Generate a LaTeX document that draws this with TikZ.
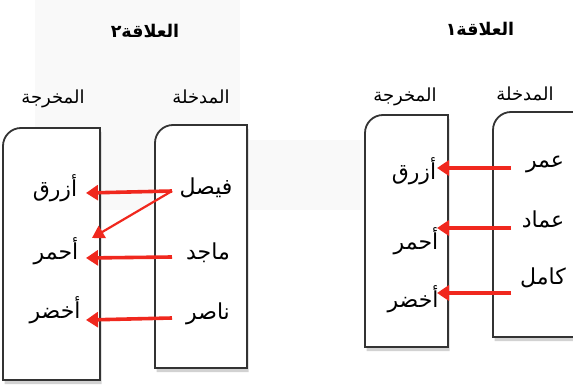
\documentclass[tikz,border=0pt]{standalone}
\usepackage{fontspec}
\usetikzlibrary{arrows.meta,shadows}
\TeXXeTstate=1
\newfontfamily\arabicfont[Script=Arabic]{DejaVu Sans}
\definecolor{arrred}{HTML}{F0281E}
\definecolor{boxline}{HTML}{333333}
\tikzset{
  item/.style={font=\arabicfont\fontsize{22}{26}\selectfont, inner sep=0pt},
  head/.style={font=\arabicfont\fontsize{18}{22}\selectfont, inner sep=0pt},
  title/.style={font=\arabicfont\bfseries\fontsize{17.5}{22}\selectfont, inner sep=0pt},
  setbox/.style={draw=boxline, line width=1.8pt, fill=white,
     drop shadow={shadow xshift=1.5pt, shadow yshift=-4pt, opacity=0.35, fill=gray}},
  arr/.style={draw=arrred, line width=3.6pt, -{Triangle[length=12pt,width=15pt]}},
  arrthin/.style={draw=arrred, line width=2.2pt, -{Triangle[length=12pt,width=14pt]}}
}
\begin{document}
\begin{tikzpicture}[x=1pt,y=-1pt]
\clip (0,0) rectangle (573,385);
\fill[white] (0,0) rectangle (573,385);
% faint background shading
\fill[gray!5] (35,0) rectangle (240,210);
\fill[gray!5] (240,140) rectangle (445,210);

% ---------- Relation 2 (left) ----------
\node[title] (t2) at (145,31) {\beginR العلاقة٢\endR};
\node[head] (h2o) at (53,99) {\beginR المخرجة\endR};
\node[head] (h2i) at (201,97) {\beginR المدخلة\endR};
\path[setbox] (3,380) -- (3,146) arc[start angle=180,end angle=270,radius=18] -- (100,128) -- (100,380) -- cycle;
\path[setbox] (155,368) -- (155,143) arc[start angle=180,end angle=270,radius=18] -- (247,125) -- (247,368) -- cycle;
\node[item] (f) at (206,188) {\beginR فيصل\endR};
\node[item] (m) at (208,253) {\beginR ماجد\endR};
\node[item] (n) at (208,314) {\beginR ناصر\endR};
\node[item] (b2) at (55,188) {\beginR أزرق\endR};
\node[item] (r2) at (56,251) {\beginR أحمر\endR};
\node[item] (g2) at (55,310) {\beginR أخضر\endR};
\coordinate (fs) at (172,191);
\coordinate (ms) at (172,257);
\coordinate (ns) at (172,318);
\coordinate (b2e) at (86,193);
\coordinate (r2e) at (92,238);
\coordinate (r2f) at (86,258);
\coordinate (g2e) at (86,320);
\draw[arr] (fs) -- (b2e);
\draw[arrthin] (fs) -- (r2e);
\draw[arr] (ms) -- (r2f);
\draw[arr] (ns) -- (g2e);

% ---------- Relation 1 (right) ----------
\node[title] (t1) at (480,29) {\beginR العلاقة١\endR};
\node[head] (h1o) at (405,97) {\beginR المخرجة\endR};
\node[head] (h1i) at (525,94) {\beginR المدخلة\endR};
\path[setbox] (365,347) -- (365,133) arc[start angle=180,end angle=270,radius=18] -- (448,115) -- (448,347) -- cycle;
\path[setbox] (493,337) -- (493,130) arc[start angle=180,end angle=270,radius=18] -- (574,112) -- (574,337) -- cycle;
\node[item] (o) at (545,164) {\beginR عمر\endR};
\node[item] (e) at (543,219) {\beginR عماد\endR};
\node[item] (k) at (543,278) {\beginR كامل\endR};
\node[item] (b1) at (414,171) {\beginR أزرق\endR};
\node[item] (r1) at (416,241) {\beginR أحمر\endR};
\node[item] (g1) at (413,299) {\beginR أخضر\endR};
\coordinate (os) at (511,168);
\coordinate (es) at (511,228);
\coordinate (ks) at (511,293);
\coordinate (b1e) at (437,168);
\coordinate (r1e) at (437,228);
\coordinate (g1e) at (437,293);
\draw[arr] (os) -- (b1e);
\draw[arr] (es) -- (r1e);
\draw[arr] (ks) -- (g1e);
\end{tikzpicture}
\end{document}
